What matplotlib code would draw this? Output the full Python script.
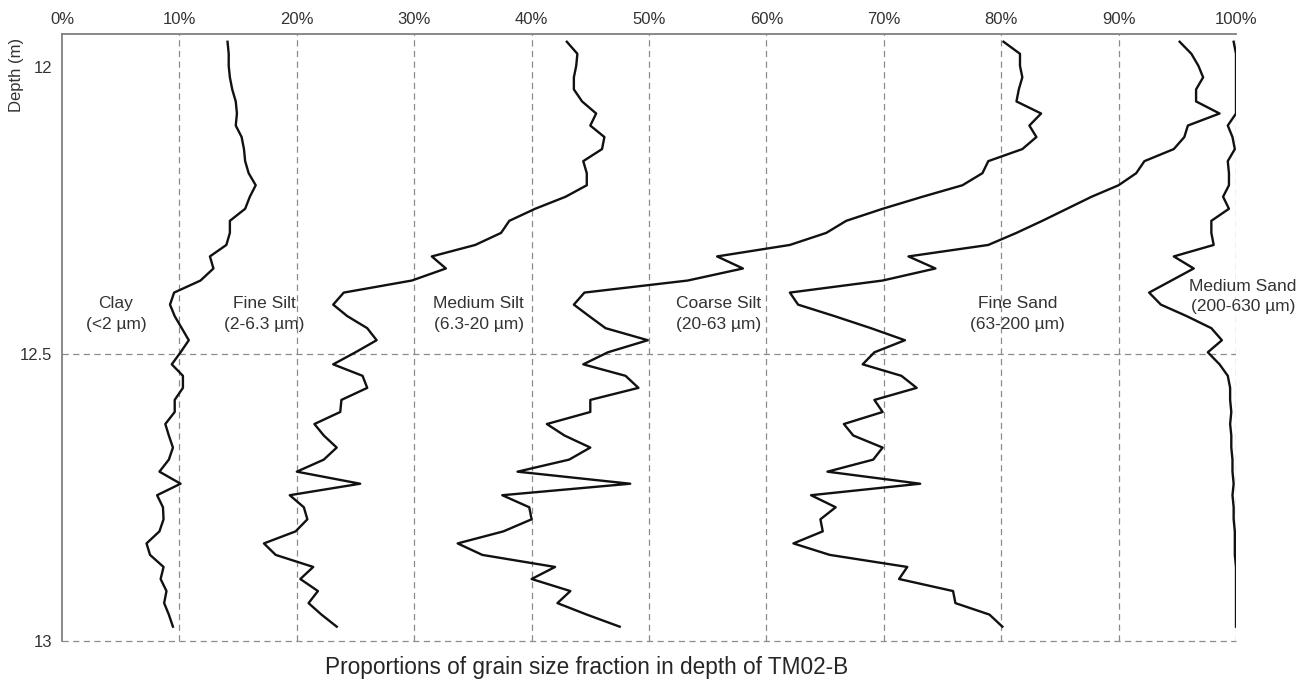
import matplotlib.pyplot as plt

plt.rcParams['font.family'] = ['Liberation Sans', 'DejaVu Sans']

# sample depths (m)
depth = [11.956, 11.977, 11.998, 12.018, 12.039, 12.060, 12.081, 12.102, 12.122, 12.143,
         12.164, 12.185, 12.206, 12.226, 12.247, 12.268, 12.289, 12.310, 12.330, 12.351,
         12.372, 12.393, 12.414, 12.434, 12.455, 12.476, 12.497, 12.518, 12.538, 12.559,
         12.580, 12.601, 12.622, 12.642, 12.663, 12.684, 12.705, 12.726, 12.746, 12.767,
         12.788, 12.809, 12.830, 12.850, 12.871, 12.892, 12.913, 12.934, 12.954, 12.975]

# cumulative percentages of each fraction
clay = [14.1, 14.2, 14.2, 14.3, 14.5, 14.8, 14.9, 14.8, 15.3, 15.5,
        15.6, 15.9, 16.5, 16.0, 15.6, 14.3, 14.3, 14.0, 12.6, 12.9,
        11.8, 9.55, 9.2, 9.6, 10.2, 10.8, 10.1, 9.35, 10.3, 10.3,
        9.6, 9.6, 8.8, 9.1, 9.45, 9.1, 8.3, 10.1, 8.1, 8.6,
        8.65, 8.3, 7.2, 7.5, 8.65, 8.4, 8.9, 8.7, 9.1, 9.45]
fine_silt = [43.0, 43.9, 43.8, 43.6, 43.6, 44.3, 45.5, 45.0, 46.2, 46.0,
             44.4, 44.7, 44.7, 42.9, 40.3, 38.1, 37.4, 35.2, 31.5, 32.7,
             29.8, 24.0, 23.1, 24.3, 26.0, 26.8, 25.0, 23.1, 25.6, 26.0,
             23.8, 23.7, 21.5, 22.3, 23.4, 22.3, 20.0, 25.4, 19.4, 20.6,
             20.9, 19.9, 17.2, 18.2, 21.4, 20.3, 21.8, 21.0, 22.1, 23.4]
medium_silt = [80.2, 81.6, 81.6, 81.8, 81.5, 81.3, 83.4, 82.4, 83.0, 81.8,
               78.9, 78.4, 76.7, 73.3, 69.9, 66.8, 65.1, 62.0, 55.8, 58.0,
               53.3, 44.5, 43.6, 44.9, 46.3, 49.9, 46.5, 44.4, 48.0, 49.1,
               45.0, 45.0, 41.3, 42.8, 45.0, 43.2, 38.8, 48.4, 37.5, 39.8,
               40.0, 37.6, 33.7, 35.8, 42.0, 40.0, 43.3, 42.2, 44.7, 47.5]
coarse_silt = [95.2, 96.2, 96.8, 97.2, 96.6, 96.6, 98.6, 95.9, 95.6, 94.7,
               92.2, 91.5, 90.0, 87.7, 85.6, 83.5, 81.3, 78.9, 72.1, 74.4,
               69.9, 62.0, 62.7, 65.8, 68.9, 71.8, 69.2, 68.2, 71.5, 72.8,
               69.2, 69.9, 66.6, 67.4, 69.9, 69.1, 65.2, 73.1, 63.8, 65.9,
               64.6, 64.8, 62.3, 65.4, 72.0, 71.3, 75.9, 76.1, 79.0, 80.1]
fine_sand = [99.8, 100.0, 100.0, 100.0, 100.0, 100.0, 100.0, 99.3, 99.7, 99.9,
             99.3, 99.4, 99.4, 98.9, 99.4, 97.9, 97.9, 98.1, 94.7, 96.4,
             94.5, 92.6, 93.6, 95.8, 97.9, 98.8, 97.6, 98.6, 99.3, 99.5,
             99.5, 99.6, 99.5, 99.6, 99.6, 99.7, 99.7, 99.8, 99.7, 99.8,
             99.8, 99.9, 99.9, 99.9, 100.0, 100.0, 100.0, 100.0, 100.0, 100.0]

fraction_names = ['Clay\n(<2 µm)', 'Fine Silt\n(2-6.3 µm)', 'Medium Silt\n(6.3-20 µm)',
                  'Coarse Silt\n(20-63 µm)', 'Fine Sand\n(63-200 µm)', 'Medium Sand\n(200-630 µm)']
x_ticks = [0, 10, 20, 30, 40, 50, 60, 70, 80, 90, 100]


def main():
    fig = plt.figure(figsize=(13.07, 6.79), dpi=100)
    ax = fig.add_axes([62 / 1307, 38 / 679, 1174 / 1307, 607 / 679])

    grid_kw = dict(color='#8c8c8c', lw=0.9, ls=(0, (5, 3.5)), zorder=1)
    for v in x_ticks[1:]:
        ax.axvline(v, **grid_kw)
    ax.axhline(12.5, **grid_kw)
    ax.axhline(13.0, clip_on=False, **grid_kw)

    for curve in [clay, fine_silt, medium_silt, coarse_silt, fine_sand]:
        ax.plot(curve, depth, color='#111111', lw=1.7, zorder=3)

    label_x = [4.6, 17.2, 35.5, 55.9, 81.4, 100.6]
    label_y = [12.43, 12.43, 12.43, 12.43, 12.43, 12.40]
    for name, lx, ly in zip(fraction_names, label_x, label_y):
        ax.text(lx, ly, name, ha='center', va='center', fontsize=12.5,
                color='#333333', linespacing=1.45, zorder=4)

    ax.set_xlim(0, 100)
    ax.set_ylim(13.0, 11.9425)
    ax.xaxis.tick_top()
    ax.set_xticks(x_ticks)
    ax.set_xticklabels([f'{v}%' for v in x_ticks])
    ax.set_yticks([12, 12.5, 13])
    ax.set_yticklabels(['12', '12.5', '13'])
    ax.tick_params(axis='x', length=0, pad=5, labelsize=12, labelcolor='#333333')
    ax.tick_params(axis='y', length=0, pad=7, labelsize=12, labelcolor='#333333')

    for side in ['right', 'bottom']:
        ax.spines[side].set_visible(False)
    for side in ['left', 'top']:
        ax.spines[side].set_color('#808080')
        ax.spines[side].set_linewidth(1.3)

    ax.set_ylabel('Depth (m)', fontsize=12, color='#333333')
    ax.yaxis.set_label_coords(-0.0325, 0.932)

    fig.text(587 / 1307, 5 / 679, 'Proportions of grain size fraction in depth of TM02-B',
             ha='center', va='baseline', fontsize=16.3, color='#262626')

    fig.savefig('out.png', dpi=100)


if __name__ == "__main__":
    main()
